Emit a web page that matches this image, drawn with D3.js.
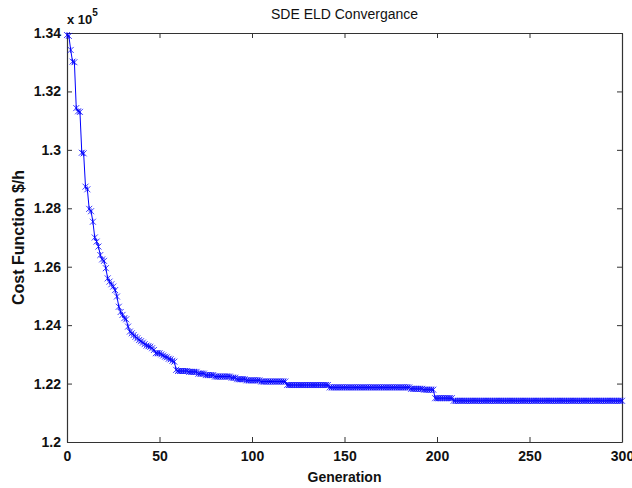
<!DOCTYPE html>
<html>
<head>
<meta charset="utf-8">
<script src="https://cdnjs.cloudflare.com/ajax/libs/d3/7.8.5/d3.min.js"></script>
<style>
body { margin: 0; background: #fff; }
text { font-family: "Liberation Sans", Arial, sans-serif; }
</style>
</head>
<body>
<div id="svg"></div>
<script>

// best cost per generation, in units of 1e5 $/h
var cost = [
  1.3393, 1.3390, 1.3342, 1.3302, 1.3300, 1.3143, 1.3132, 1.3130, 1.2990, 1.2988,
  1.2874, 1.2865, 1.2798, 1.2790, 1.2754, 1.2700, 1.2686, 1.2669, 1.2640, 1.2625,
  1.2620, 1.2595, 1.2560, 1.2549, 1.2540, 1.2532, 1.2520, 1.2498, 1.2463, 1.2445,
  1.2435, 1.2424, 1.2420, 1.2395, 1.2378, 1.2372, 1.2366, 1.2360, 1.2355, 1.2349,
  1.2345, 1.2340, 1.2335, 1.2330, 1.2328, 1.2326, 1.2321, 1.2315, 1.2304, 1.2304,
  1.2304, 1.2300, 1.2296, 1.2292, 1.2290, 1.2285, 1.2283, 1.2278, 1.2275, 1.2247,
  1.2243, 1.2243, 1.2243, 1.2243, 1.2243, 1.2243, 1.2240, 1.2240, 1.2240, 1.2240,
  1.2240, 1.2234, 1.2234, 1.2234, 1.2234, 1.2229, 1.2229, 1.2229, 1.2229, 1.2229,
  1.2224, 1.2224, 1.2224, 1.2224, 1.2224, 1.2224, 1.2224, 1.2224, 1.2224, 1.2220,
  1.2220, 1.2220, 1.2215, 1.2215, 1.2215, 1.2215, 1.2215, 1.2211, 1.2211, 1.2211,
  1.2211, 1.2211, 1.2211, 1.2211, 1.2211, 1.2207, 1.2207, 1.2207, 1.2207, 1.2207,
  1.2207, 1.2207, 1.2207, 1.2207, 1.2207, 1.2207, 1.2207, 1.2207, 1.2207, 1.2195,
  1.2195, 1.2195, 1.2195, 1.2195, 1.2195, 1.2195, 1.2195, 1.2195, 1.2195, 1.2195,
  1.2195, 1.2195, 1.2195, 1.2195, 1.2195, 1.2195, 1.2195, 1.2195, 1.2195, 1.2195,
  1.2195, 1.2195, 1.2187, 1.2187, 1.2187, 1.2187, 1.2187, 1.2187, 1.2187, 1.2187,
  1.2187, 1.2187, 1.2187, 1.2187, 1.2187, 1.2187, 1.2187, 1.2187, 1.2187, 1.2187,
  1.2187, 1.2187, 1.2187, 1.2187, 1.2187, 1.2187, 1.2187, 1.2187, 1.2187, 1.2187,
  1.2187, 1.2187, 1.2187, 1.2187, 1.2187, 1.2187, 1.2187, 1.2187, 1.2187, 1.2187,
  1.2187, 1.2187, 1.2187, 1.2187, 1.2187, 1.2187, 1.2182, 1.2182, 1.2182, 1.2182,
  1.2182, 1.2182, 1.2182, 1.2179, 1.2179, 1.2179, 1.2179, 1.2179, 1.2179, 1.2150,
  1.2150, 1.2150, 1.2150, 1.2150, 1.2150, 1.2150, 1.2150, 1.2150, 1.2150, 1.2141,
  1.2141, 1.2141, 1.2141, 1.2141, 1.2141, 1.2141, 1.2141, 1.2141, 1.2141, 1.2141,
  1.2141, 1.2141, 1.2141, 1.2141, 1.2141, 1.2141, 1.2141, 1.2141, 1.2141, 1.2141,
  1.2141, 1.2141, 1.2141, 1.2141, 1.2141, 1.2141, 1.2141, 1.2141, 1.2141, 1.2141,
  1.2141, 1.2141, 1.2141, 1.2141, 1.2141, 1.2141, 1.2141, 1.2141, 1.2141, 1.2141,
  1.2141, 1.2141, 1.2141, 1.2141, 1.2141, 1.2141, 1.2141, 1.2141, 1.2141, 1.2141,
  1.2141, 1.2141, 1.2141, 1.2141, 1.2141, 1.2141, 1.2141, 1.2141, 1.2141, 1.2141,
  1.2141, 1.2141, 1.2141, 1.2141, 1.2141, 1.2141, 1.2141, 1.2141, 1.2141, 1.2141,
  1.2141, 1.2141, 1.2141, 1.2141, 1.2141, 1.2141, 1.2141, 1.2141, 1.2141, 1.2141,
  1.2141, 1.2141, 1.2141, 1.2141, 1.2141, 1.2141, 1.2141, 1.2141, 1.2141, 1.2141,
  1.2141
];

var xTicks = [0, 50, 100, 150, 200, 250, 300];
var yTicks = [1.2, 1.22, 1.24, 1.26, 1.28, 1.3, 1.32, 1.34];

var titleText = "SDE ELD Convergance";
var xLabel = "Generation";
var yLabel = "Cost Function $/h";

var W = 632, H = 488;
var margin = {top: 33, right: 10, bottom: 46, left: 67};
var w = W - margin.left - margin.right;
var h = H - margin.top - margin.bottom;

var svg = d3.select("#svg")
    .append("svg")
    .attr("width", W)
    .attr("height", H);

var g = svg.append("g")
    .attr("transform", "translate(" + margin.left + "," + margin.top + ")");

var x = d3.scaleLinear().domain([0, 300]).range([0, w]);
var y = d3.scaleLinear().domain([1.2, 1.34]).range([h, 0]);

var fmtY = function(d) { return String(+d.toFixed(2)); };

// axes: MATLAB style box with inward ticks
var ax = {
    bottom: d3.axisBottom(x).tickValues(xTicks).tickSizeInner(-5).tickSizeOuter(0).tickPadding(9),
    top: d3.axisTop(x).tickValues(xTicks).tickSizeInner(-5).tickSizeOuter(0).tickFormat(""),
    left: d3.axisLeft(y).tickValues(yTicks).tickSizeInner(-5).tickSizeOuter(0).tickPadding(6).tickFormat(fmtY),
    right: d3.axisRight(y).tickValues(yTicks).tickSizeInner(-5).tickSizeOuter(0).tickFormat("")
};

g.append("g").attr("transform", "translate(0," + h + ")").call(ax.bottom);
g.append("g").call(ax.top);
g.append("g").call(ax.left);
g.append("g").attr("transform", "translate(" + w + ",0)").call(ax.right);

g.selectAll(".domain").attr("stroke", "#333").attr("stroke-width", 1.2);
g.selectAll(".tick line").attr("stroke", "#333");
g.selectAll(".tick text")
    .attr("fill", "#111")
    .style("font-size", "14px")
    .style("font-weight", "bold")
    .style("font-family", "'Liberation Sans', Arial, sans-serif");

// line
var line = d3.line()
    .x(function(d, i) { return x(i); })
    .y(function(d) { return y(d); });

g.append("path")
    .datum(cost)
    .attr("fill", "none")
    .attr("stroke", "#0000ff")
    .attr("stroke-width", 1)
    .attr("d", line);

// asterisk markers
var r = 3;
g.selectAll(".mk")
    .data(cost)
    .enter()
    .append("path")
    .attr("class", "mk")
    .attr("transform", function(d, i) { return "translate(" + x(i) + "," + y(d) + ")"; })
    .attr("d", "M" + (-r) + "," + (-r) + "L" + r + "," + r +
               "M" + (-r) + "," + r + "L" + r + "," + (-r) +
               "M0," + (-r) + "L0," + r)
    .attr("fill", "none")
    .attr("stroke", "#0000ff")
    .attr("stroke-opacity", 0.75)
    .attr("stroke-width", 1);

// exponent label
var ex = svg.append("text")
    .attr("x", margin.left)
    .attr("y", 24)
    .style("font-size", "13px")
    .style("font-weight", "bold")
    .attr("fill", "#111");
ex.append("tspan").text("x 10");
ex.append("tspan").attr("dy", -8).style("font-size", "10px").text("5");

// title
svg.append("text")
    .attr("x", margin.left + w / 2)
    .attr("y", 19)
    .attr("text-anchor", "middle")
    .style("font-size", "14px")
    .attr("fill", "#111")
    .text(titleText);

// axis labels
svg.append("text")
    .attr("x", margin.left + w / 2)
    .attr("y", 482)
    .attr("text-anchor", "middle")
    .style("font-size", "14px")
    .style("font-weight", "bold")
    .attr("fill", "#111")
    .text(xLabel);

svg.append("text")
    .attr("transform", "translate(24," + (margin.top + h / 2) + ") rotate(-90)")
    .attr("text-anchor", "middle")
    .style("font-size", "16px")
    .style("font-weight", "bold")
    .attr("fill", "#111")
    .text(yLabel);

</script>
</body>
</html>
